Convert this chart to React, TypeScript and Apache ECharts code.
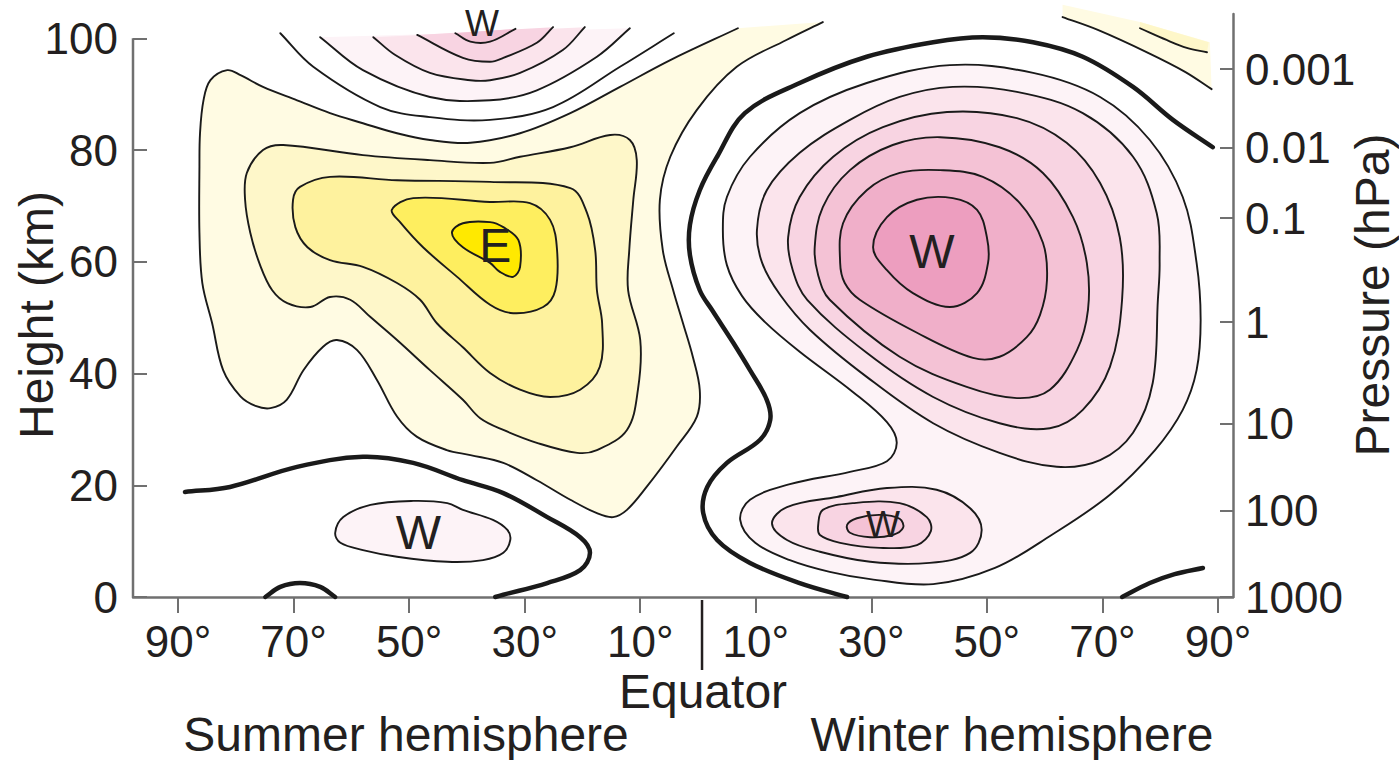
import React, { useEffect, useRef } from "react";
import * as echarts from "echarts";

type Pt = [number, number];

const FONT = '"Liberation Sans", Arial, Helvetica, sans-serif';

// ---------- axes ----------
const latRange = [-97.8, 92.6];
const heightRange = [0, 104.35];
const latTicks = [-90, -70, -50, -30, -10, 10, 30, 50, 70, 90];
const heightTicks = [0, 20, 40, 60, 80, 100];
const leftAxisSpan = [0, 100];
const pressureHeights = [94.5, 80.4, 67.8, 49.2, 31.0, 15.4, 0];
const pressureLabels = ["0.001", "0.01", "0.1", "1", "10", "100", "1000"];

// ---------- contours, [latitude (summer < 0 < winter), height km] ----------
const summerOuter: Pt[] = [
  [6.9, 101.8], [-4.8, 96.1], [-13.5, 91.3], [-22.1, 86.6], [-30.8, 83.0], [-39.4, 81.3],
  [-46.4, 81.8], [-52.1, 83.0], [-58.0, 84.8], [-63.7, 86.6], [-69.4, 88.9], [-75.3, 91.3],
  [-79.2, 93.4], [-81.5, 94.3], [-84.4, 92.5], [-85.6, 88.9], [-86.2, 83.0], [-86.3, 77.0],
  [-86.3, 65.2], [-85.8, 56.2], [-84.1, 49.0], [-82.2, 40.6], [-79.2, 35.9], [-76.6, 34.2],
  [-74.0, 33.8], [-71.2, 35.3], [-68.3, 40.6], [-64.9, 44.8], [-62.5, 46.0], [-59.0, 44.2],
  [-55.6, 38.9], [-52.1, 32.3], [-48.7, 28.7], [-43.5, 26.3], [-39.4, 25.4], [-33.7, 24.0],
  [-27.9, 20.9], [-22.1, 17.4], [-17.5, 15.0], [-14.7, 14.3], [-12.3, 15.6], [-8.9, 19.7],
  [-3.7, 26.9], [-0.2, 32.3], [0.3, 37.1], [-0.9, 43.0], [-2.6, 49.0], [-4.3, 54.9],
  [-6.1, 62.1], [-6.6, 71.1], [-4.8, 78.8], [-0.2, 87.2], [6.7, 94.9], [15.3, 99.7], [21.6, 102.9],
];
const summerC2: Pt[] = [
  [-78.1, 75.9], [-75.3, 80.0], [-71.8, 80.9], [-58.0, 79.1], [-46.4, 78.2], [-36.0, 77.7],
  [-30.8, 78.8], [-22.1, 80.5], [-15.2, 82.7], [-11.8, 81.8], [-10.6, 78.2], [-11.2, 71.1],
  [-11.9, 62.1], [-12.1, 54.9], [-10.0, 46.0], [-10.4, 37.1], [-12.3, 29.9], [-17.5, 26.3],
  [-20.9, 25.8], [-27.9, 27.6], [-33.7, 29.9], [-37.7, 32.0], [-40.7, 35.3], [-46.4, 40.6],
  [-52.1, 46.0], [-56.7, 50.1], [-60.2, 53.2], [-63.7, 53.7], [-67.1, 51.9], [-71.1, 52.6],
  [-73.7, 54.9], [-75.8, 59.4], [-77.5, 65.2], [-78.4, 71.1],
];
const summerC3: Pt[] = [
  [-68.9, 73.4], [-63.7, 75.2], [-52.1, 74.6], [-36.0, 74.3], [-22.1, 73.2], [-19.2, 68.7],
  [-17.8, 62.1], [-17.5, 54.9], [-16.6, 49.0], [-17.0, 41.2], [-20.4, 37.1], [-25.6, 35.8],
  [-30.8, 37.1], [-36.0, 40.1], [-40.7, 44.7], [-45.2, 49.0], [-48.1, 53.2], [-52.1, 56.2],
  [-58.0, 59.1], [-63.7, 60.3], [-67.6, 62.6], [-69.7, 66.2], [-70.1, 71.1],
];
const summerC4: Pt[] = [
  [-53.0, 69.3], [-49.3, 71.4], [-36.0, 70.7], [-29.1, 70.5], [-25.6, 67.5], [-24.4, 62.1],
  [-24.7, 54.9], [-26.8, 51.9], [-32.0, 50.8], [-36.0, 52.3], [-41.7, 57.3], [-47.6, 62.6],
  [-51.5, 67.0],
];
const summerCore: Pt[] = [
  [-42.6, 65.2], [-40.7, 66.9], [-36.0, 67.1], [-33.7, 66.2], [-31.1, 63.9], [-30.8, 59.1],
  [-32.0, 57.3], [-34.3, 58.2], [-36.0, 59.8], [-40.7, 62.6],
];
const summerLowW: Pt[] = [
  [-62.8, 11.5], [-61.4, 14.3], [-56.7, 16.5], [-49.3, 17.2], [-43.4, 16.8], [-40.7, 15.6],
  [-35.5, 13.8], [-33.0, 12.0], [-32.5, 10.2], [-33.7, 7.9], [-37.2, 6.6], [-43.4, 6.3],
  [-52.1, 7.2], [-58.0, 8.4], [-61.9, 9.7],
];
const summerZero: Pt[] = [
  [-88.8, 18.8], [-81.0, 19.7], [-69.4, 23.3], [-58.0, 25.1], [-49.3, 24.0], [-40.7, 20.9],
  [-33.7, 18.6], [-26.1, 14.3], [-20.4, 10.7], [-18.7, 7.9], [-20.4, 4.8], [-26.1, 2.5],
  [-33.7, 0.4], [-35.1, 0],
];
const summerZeroArc: Pt[] = [[-74.9, 0], [-72.3, 1.8], [-68.9, 2.5], [-65.4, 1.8], [-62.8, 0]];

const topArc1: Pt[] = [[-42.0, 100.9], [-39.4, 99.4], [-36.0, 99.4], [-31.6, 101.7]];
const topArc2: Pt[] = [[-48.6, 100.6], [-40.7, 96.5], [-36.0, 95.8], [-33.7, 96.5], [-27.9, 99.2], [-25.1, 102.0]];
const topArc3: Pt[] = [
  [-56.2, 100.2], [-52.4, 97.0], [-46.4, 93.8], [-39.4, 92.5], [-36.0, 92.5], [-30.8, 93.8],
  [-23.4, 97.9], [-19.6, 102.0],
];
const topArc4: Pt[] = [
  [-65.4, 100.2], [-58.0, 94.3], [-46.4, 89.5], [-36.0, 88.9], [-27.9, 90.7], [-17.5, 96.7], [-11.8, 101.8],
];
const topArc5: Pt[] = [
  [-72.3, 100.9], [-66.6, 94.9], [-55.0, 87.7], [-46.4, 85.9], [-36.0, 85.4], [-25.1, 87.7],
  [-13.5, 94.9], [-4.2, 100.9],
];

const winterZero: Pt[] = [
  [25.8, 0], [17.6, 2.5], [9.0, 6.1], [3.3, 10.2], [0.9, 15.0], [1.6, 19.7], [5.0, 24.0],
  [10.7, 28.1], [12.5, 31.7], [11.9, 35.3], [9.0, 40.6], [6.1, 45.5], [2.4, 51.4], [0.3, 54.9],
  [-1.4, 61.2], [-1.4, 66.6], [0.3, 72.8], [3.3, 78.8], [8.1, 86.6], [17.6, 92.0], [29.2, 96.7],
  [40.7, 99.3], [49.3, 100.2], [58.0, 99.3], [66.6, 96.7], [75.3, 91.3], [82.2, 85.4], [89.1, 80.5],
];
const winterZeroLow: Pt[] = [[73.4, 0], [78.2, 2.5], [82.5, 4.1], [87.4, 5.2]];

const winterC1: Pt[] = [
  [4.3, 65.7], [5.0, 71.6], [9.0, 78.8], [17.6, 86.6], [29.2, 92.0], [43.6, 95.2], [58.0, 93.8],
  [69.6, 89.5], [78.2, 81.8], [83.9, 71.6], [86.3, 59.8], [87.0, 49.6], [86.3, 40.6], [83.9, 33.5],
  [79.1, 26.3], [71.3, 18.3], [61.2, 11.1], [51.4, 5.2], [40.7, 2.3], [29.8, 3.2], [22.8, 4.5],
  [15.9, 6.6], [9.9, 9.7], [7.3, 13.8], [9.0, 17.4], [15.9, 20.2], [26.3, 22.4], [32.7, 24.3],
  [34.4, 27.6], [32.7, 31.3], [26.8, 36.7], [17.6, 43.9], [11.6, 49.2], [7.6, 53.9], [5.0, 59.4],
];
const winterC2: Pt[] = [
  [10.2, 65.7], [11.9, 72.8], [17.6, 79.5], [26.3, 85.4], [34.9, 89.5], [44.1, 91.3], [55.2, 90.4],
  [66.6, 86.6], [75.3, 78.8], [79.4, 68.7], [79.9, 59.8], [79.6, 53.2], [78.7, 38.3], [75.3, 29.4],
  [69.6, 24.5], [62.1, 23.3], [52.2, 25.8], [40.7, 31.1], [29.2, 39.4], [19.4, 47.8], [14.2, 54.1],
  [11.1, 59.8],
];
const winterC3: Pt[] = [
  [15.6, 64.4], [17.6, 71.6], [23.4, 78.8], [32.0, 84.1], [43.1, 86.8], [55.2, 85.7], [63.8, 81.3],
  [69.6, 74.1], [73.0, 64.4], [73.4, 53.2], [71.3, 41.2], [66.6, 33.5], [60.9, 30.2], [52.2, 31.1],
  [40.7, 35.8], [29.2, 43.7], [18.9, 53.2], [16.4, 58.5],
];
const winterC4: Pt[] = [
  [20.2, 62.6], [21.6, 69.8], [26.3, 76.4], [33.7, 80.9], [41.9, 82.3], [52.2, 80.5], [59.7, 75.9],
  [64.9, 68.0], [67.3, 59.8], [67.5, 51.4], [65.6, 44.2], [60.9, 37.1], [55.2, 35.6], [46.5, 37.6],
  [34.9, 43.0], [22.8, 53.2], [20.8, 57.6],
];
const winterC5: Pt[] = [
  [24.6, 59.8], [25.1, 66.9], [29.2, 72.8], [34.9, 75.9], [41.9, 76.4], [49.3, 75.2], [55.7, 70.5],
  [59.7, 63.4], [60.4, 56.7], [59.2, 50.5], [56.9, 46.5], [52.2, 43.0], [47.6, 42.8], [37.9, 47.3],
  [28.0, 53.2], [25.4, 56.2],
];
const winterCore: Pt[] = [
  [30.3, 62.6], [32.7, 68.0], [37.9, 71.1], [44.1, 71.4], [48.3, 69.3], [50.0, 64.4], [50.2, 59.8],
  [48.3, 54.4], [43.6, 51.9], [37.2, 54.4], [32.7, 58.5],
];
const lowJet1: Pt[] = [
  [12.8, 13.2], [15.4, 16.1], [24.0, 17.9], [32.7, 19.5], [41.3, 19.2], [47.1, 15.9], [49.1, 12.0],
  [47.1, 7.9], [40.1, 6.1], [29.8, 6.3], [21.1, 8.1], [15.4, 10.2],
];
const lowJet2: Pt[] = [
  [20.8, 12.9], [21.6, 15.6], [26.8, 16.8], [34.9, 16.8], [39.6, 14.3], [40.3, 11.8], [37.9, 9.3],
  [31.5, 8.8], [24.6, 9.7], [21.1, 11.1],
];
const lowJet3: Pt[] = [
  [25.8, 12.9], [27.5, 14.1], [31.5, 14.7], [34.9, 14.0], [35.5, 12.4], [33.7, 11.1], [29.8, 10.7],
  [26.3, 11.5],
];
const polarTop1: Pt[] = [[63.1, 103.8], [69.2, 101.5], [77.9, 97.4], [84.3, 94.0], [88.9, 90.9]];
const polarTop1Edge: Pt[] = [[88.6, 99.3], [76.5, 102.9], [63.1, 106.0]];
const polarTop2: Pt[] = [[76.5, 101.8], [81.1, 99.7], [84.6, 98.3], [88.1, 97.5]];
const polarTop2Edge: Pt[] = [[88.4, 99.3], [76.5, 102.9]];

// ---------- in-plot labels ----------
const labelTexts = ["E", "W", "W", "W", "W"];
const labelLat = [-35.1, -48.4, -37.4, 40.5, 32.0];
const labelKm = [63.0, 11.6, 102.6, 61.8, 12.9];

// ---------- styles ----------
const labelSizes = [48, 48, 36, 48, 36];
const AXIS_COLOR = "#707070";
const TEXT_COLOR = "#231f20";
const LINE_COLOR = "#1a1a1a";
const THIN = 1.9;
const THICK = 4.5;
const yellows = ["#FFFBE3", "#FEF7C9", "#FEF29E", "#FEEE5F", "#FFE900"];
const pinks = ["#FDF3F7", "#FBE4EC", "#F8D4E2", "#F4C2D5", "#F0AFC9", "#ED9EBF"];

type Shape = { pts: Pt[]; closed?: boolean; closure?: Pt[]; fill?: string; width?: number };

const shapes: Shape[] = [
  { pts: summerOuter, closure: [], fill: yellows[0] },
  { pts: summerC2, closed: true, fill: yellows[1], width: THIN },
  { pts: summerC3, closed: true, fill: yellows[2], width: THIN },
  { pts: summerC4, closed: true, fill: yellows[3], width: THIN },
  { pts: summerCore, closed: true, fill: yellows[4], width: THIN },
  { pts: summerOuter, width: THIN },
  { pts: polarTop1, closure: polarTop1Edge, fill: yellows[0] },
  { pts: polarTop2, closure: polarTop2Edge, fill: yellows[1] },
  { pts: polarTop1, width: THIN },
  { pts: polarTop2, width: THIN },
  { pts: topArc4, closure: [], fill: pinks[0] },
  { pts: topArc3, closure: [], fill: pinks[1] },
  { pts: topArc2, closure: [], fill: pinks[2] },
  { pts: topArc1, closure: [], fill: pinks[3] },
  { pts: topArc5, width: THIN },
  { pts: topArc4, width: THIN },
  { pts: topArc3, width: THIN },
  { pts: topArc2, width: THIN },
  { pts: topArc1, width: THIN },
  { pts: summerLowW, closed: true, fill: pinks[0], width: THIN },
  { pts: winterC1, closed: true, fill: pinks[0], width: THIN },
  { pts: winterC2, closed: true, fill: pinks[1], width: THIN },
  { pts: winterC3, closed: true, fill: pinks[2], width: THIN },
  { pts: winterC4, closed: true, fill: pinks[3], width: THIN },
  { pts: winterC5, closed: true, fill: pinks[4], width: THIN },
  { pts: winterCore, closed: true, fill: pinks[5], width: THIN },
  { pts: lowJet1, closed: true, fill: pinks[1], width: THIN },
  { pts: lowJet2, closed: true, fill: pinks[2], width: THIN },
  { pts: lowJet3, closed: true, fill: pinks[3], width: THIN },
  { pts: summerZero, width: THICK },
  { pts: summerZeroArc, width: THICK },
  { pts: winterZero, width: THICK },
  { pts: winterZeroLow, width: THICK },
];

// smooth curve through points (chord-weighted cardinal spline -> cubic Bezier)
function smoothPath(p: number[][], closed: boolean, k = 0.36): string {
  const n = p.length;
  const cps: number[][][] = [];
  for (let i = 0; i < n; i++) {
    const prev = closed ? p[(i - 1 + n) % n] : p[Math.max(i - 1, 0)];
    const next = closed ? p[(i + 1) % n] : p[Math.min(i + 1, n - 1)];
    const vx = next[0] - prev[0];
    const vy = next[1] - prev[1];
    const d0 = Math.hypot(p[i][0] - prev[0], p[i][1] - prev[1]);
    const d1 = Math.hypot(next[0] - p[i][0], next[1] - p[i][1]);
    const s = d0 + d1 || 1;
    cps.push([
      [p[i][0] - (vx * k * d0) / s, p[i][1] - (vy * k * d0) / s],
      [p[i][0] + (vx * k * d1) / s, p[i][1] + (vy * k * d1) / s],
    ]);
  }
  const f = (v: number) => v.toFixed(2);
  let d = `M${f(p[0][0])} ${f(p[0][1])}`;
  const segs = closed ? n : n - 1;
  for (let i = 0; i < segs; i++) {
    const j = (i + 1) % n;
    const a = cps[i][1];
    const b = cps[j][0];
    d += ` C${f(a[0])} ${f(a[1])} ${f(b[0])} ${f(b[1])} ${f(p[j][0])} ${f(p[j][1])}`;
  }
  if (closed) d += " Z";
  return d;
}

const option: any = {
  animation: false,
  grid: { left: 133, right: 166, top: 14, bottom: 163, containLabel: false },
  xAxis: {
    type: "value",
    min: latRange[0],
    max: latRange[1],
    axisLine: { show: true, onZero: false, lineStyle: { color: AXIS_COLOR, width: 2.5 } },
    axisTick: { show: true, customValues: latTicks, length: 16, lineStyle: { color: AXIS_COLOR, width: 2 } },
    axisLabel: {
      customValues: latTicks,
      formatter: (v: number) => `${Math.abs(v)}°`,
      fontSize: 44,
      fontFamily: FONT,
      color: TEXT_COLOR,
      margin: 22,
    },
    splitLine: { show: false },
  },
  yAxis: [
    {
      type: "value",
      position: "left",
      min: heightRange[0],
      max: heightRange[1],
      axisLine: { show: false, onZero: false },
      axisTick: { show: true, inside: true, customValues: heightTicks, length: 14, lineStyle: { color: AXIS_COLOR, width: 2 } },
      axisLabel: { customValues: heightTicks, fontSize: 44, fontFamily: FONT, color: TEXT_COLOR, margin: 15 },
      splitLine: { show: false },
    },
    {
      type: "value",
      position: "right",
      min: heightRange[0],
      max: heightRange[1],
      axisLine: { show: true, onZero: false, lineStyle: { color: AXIS_COLOR, width: 2.5 } },
      axisTick: { show: true, inside: true, customValues: pressureHeights, length: 13, lineStyle: { color: AXIS_COLOR, width: 2 } },
      axisLabel: {
        customValues: pressureHeights,
        formatter: (v: number) => {
          const i = pressureHeights.indexOf(v);
          return i >= 0 ? pressureLabels[i] : "";
        },
        fontSize: 44,
        fontFamily: FONT,
        color: TEXT_COLOR,
        margin: 12,
      },
      splitLine: { show: false },
    },
  ],
  graphic: [
    {
      type: "text", x: 36, y: 315, rotation: Math.PI / 2,
      style: { text: "Height (km)", fontSize: 48, fontFamily: FONT, fill: TEXT_COLOR, align: "center", verticalAlign: "middle", textAlign: "center", textVerticalAlign: "middle" },
    },
    {
      type: "text", x: 1372, y: 295, rotation: Math.PI / 2,
      style: { text: "Pressure (hPa)", fontSize: 48, fontFamily: FONT, fill: TEXT_COLOR, align: "center", verticalAlign: "middle", textAlign: "center", textVerticalAlign: "middle" },
    },
    {
      type: "text", x: 703, y: 691,
      style: { text: "Equator", fontSize: 48, fontFamily: FONT, fill: TEXT_COLOR, align: "center", verticalAlign: "middle", textAlign: "center", textVerticalAlign: "middle" },
    },
    {
      type: "text", x: 406, y: 734,
      style: { text: "Summer hemisphere", fontSize: 48, fontFamily: FONT, fill: TEXT_COLOR, align: "center", verticalAlign: "middle", textAlign: "center", textVerticalAlign: "middle" },
    },
    {
      type: "text", x: 1012, y: 734,
      style: { text: "Winter hemisphere", fontSize: 48, fontFamily: FONT, fill: TEXT_COLOR, align: "center", verticalAlign: "middle", textAlign: "center", textVerticalAlign: "middle" },
    },
  ],
  series: [
    {
      type: "custom",
      name: "contours",
      coordinateSystem: "cartesian2d",
      clip: false,
      silent: true,
      z: 2,
      data: shapes.map((_, i) => [i, 0]),
      renderItem: (params: any, api: any) => {
        const s = shapes[params.dataIndex];
        const px = s.pts.map((q) => api.coord(q));
        let d = smoothPath(px, !!s.closed);
        const fillOnly = !s.closed && s.closure !== undefined;
        if (fillOnly) {
          (s.closure as Pt[]).forEach((q) => {
            const c = api.coord(q);
            d += ` L${c[0].toFixed(2)} ${c[1].toFixed(2)}`;
          });
          d += " Z";
        }
        return {
          type: "path",
          z2: params.dataIndex,
          shape: { pathData: d },
          style: {
            fill: s.fill && (s.closed || fillOnly) ? s.fill : "none",
            stroke: s.width ? LINE_COLOR : "none",
            lineWidth: s.width || 0,
            lineJoin: "round",
            lineCap: "round",
          },
        };
      },
    },
    {
      type: "custom",
      name: "labels",
      coordinateSystem: "cartesian2d",
      clip: false,
      silent: true,
      z: 4,
      data: labelTexts.map((_, i) => [labelLat[i], labelKm[i]]),
      renderItem: (params: any, api: any) => {
        const c = api.coord([api.value(0), api.value(1)]);
        const i = params.dataIndex;
        return {
          type: "text",
          x: c[0],
          y: c[1],
          style: {
            text: labelTexts[i],
            fontSize: labelSizes[i],
            fontFamily: FONT,
            fill: TEXT_COLOR,
            align: "center",
            verticalAlign: "middle",
            textAlign: "center",
            textVerticalAlign: "middle",
          },
        };
      },
    },
    {
      type: "custom",
      name: "equator",
      coordinateSystem: "cartesian2d",
      clip: false,
      silent: true,
      z: 4,
      data: [[0, 0]],
      renderItem: (_params: any, api: any) => {
        const c = api.coord([api.value(0), api.value(1)]);
        return {
          type: "line",
          shape: { x1: c[0] + 4, y1: c[1] + 3, x2: c[0] + 4, y2: c[1] + 73 },
          style: { stroke: TEXT_COLOR, lineWidth: 2.5 },
        };
      },
    },
    {
      type: "line",
      name: "leftAxis",
      data: [[latRange[0], leftAxisSpan[0]], [latRange[0], leftAxisSpan[1]]],
      symbol: "none",
      clip: false,
      silent: true,
      z: 5,
      lineStyle: { color: AXIS_COLOR, width: 2.5 },
    },
  ],
};

export default function App() {
  const ref = useRef<HTMLDivElement>(null);
  useEffect(() => {
    document.body.style.margin = "0";
    const chart = echarts.init(ref.current as HTMLDivElement, null, { renderer: "svg" });
    chart.setOption(option);
    return () => chart.dispose();
  }, []);
  return <div ref={ref} style={{ width: 1399, height: 760 }} />;
}
